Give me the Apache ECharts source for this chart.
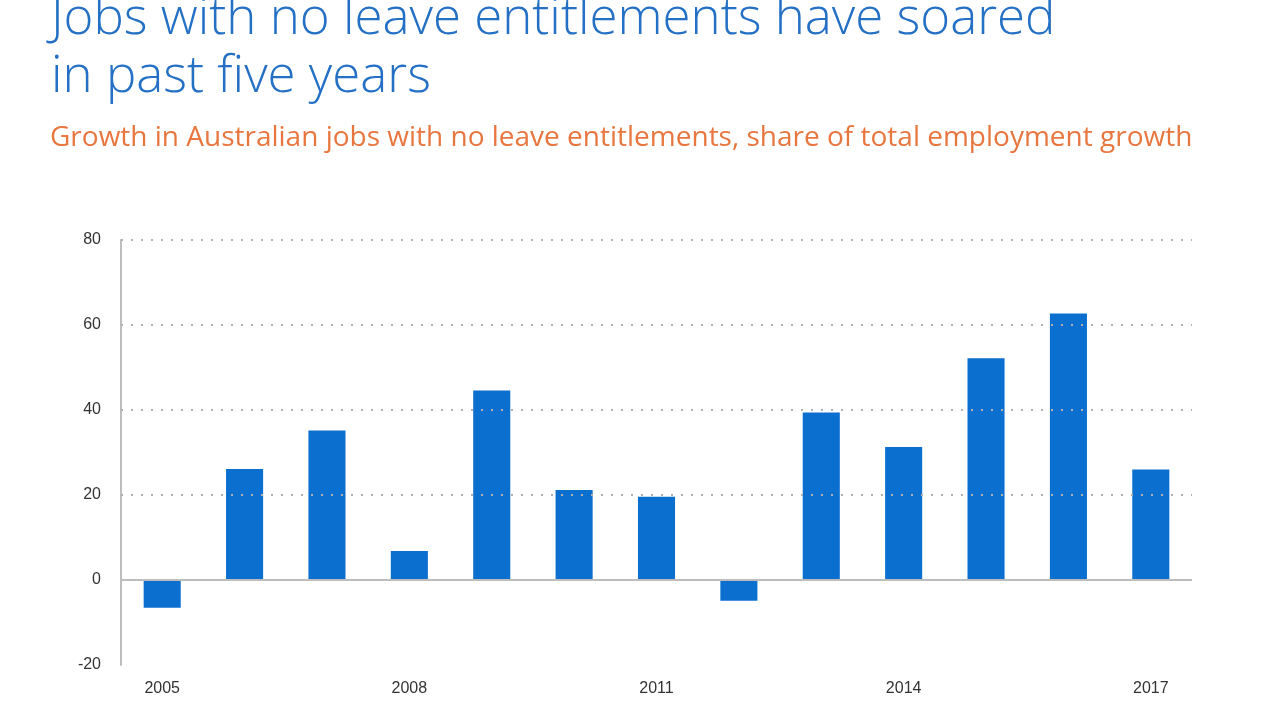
<!DOCTYPE html>
<html><head><meta charset="utf-8">
<script src="https://cdn.jsdelivr.net/npm/echarts@6/dist/echarts.min.js"></script>
<style>html,body{margin:0;padding:0;background:#fff}#c{width:1280px;height:720px}</style>
</head><body><div id="c"></div>
<script>
const years = ['2005','2006','2007','2008','2009','2010','2011','2012','2013','2014','2015','2016','2017'];
const shareNoLeave = [-6.5, 26.1, 35.2, 6.8, 44.6, 21.2, 19.6, -4.9, 39.4, 31.3, 52.2, 62.7, 26.0];
const gridValues = [20, 40, 60, 80];
const titleText = 'Jobs with no leave entitlements have soared\nin past five years';
const subtitleText = 'Growth in Australian jobs with no leave entitlements, share of total employment growth';

const chart = echarts.init(document.getElementById('c'));
chart.setOption({
  animation: false,
  title: [{
    text: titleText,
    left: 51, top: -10, padding: 0,
    textStyle: {fontFamily: 'Open Sans', fontWeight: 300, fontSize: 51, lineHeight: 58, color: '#2470c4'}
  }, {
    text: subtitleText,
    left: 50, top: 124, padding: 0,
    textStyle: {fontFamily: 'Open Sans', fontWeight: 400, fontSize: 28, color: '#e8763f'}
  }],
  grid: {left: 121, right: 88, top: 240, bottom: 55},
  xAxis: {
    type: 'category', data: years,
    axisLine: {show: false},
    axisTick: {show: false},
    axisLabel: {interval: 2, margin: 16, fontFamily: 'Liberation Sans', fontSize: 16, color: '#333'}
  },
  yAxis: {
    type: 'value', min: -20, max: 80, interval: 20,
    axisLine: {show: true, lineStyle: {color: '#bdbdbd', width: 2}},
    axisTick: {show: false},
    splitLine: {show: false},
    axisLabel: {margin: 20, fontFamily: 'Liberation Sans', fontSize: 16, color: '#333'}
  },
  series: [{
    type: 'bar', data: shareNoLeave, barWidth: '45%',
    itemStyle: {color: '#0b6fd0'},
    markLine: {
      silent: true, symbol: 'none', label: {show: false},
      data: [
        ...gridValues.map(v => ({yAxis: v, lineStyle: {type: [2, 8], color: '#b0b0b0', width: 2}})),
        {yAxis: 0, lineStyle: {type: 'solid', color: '#bdbdbd', width: 2}}
      ]
    }
  }]
});
</script></body></html>
